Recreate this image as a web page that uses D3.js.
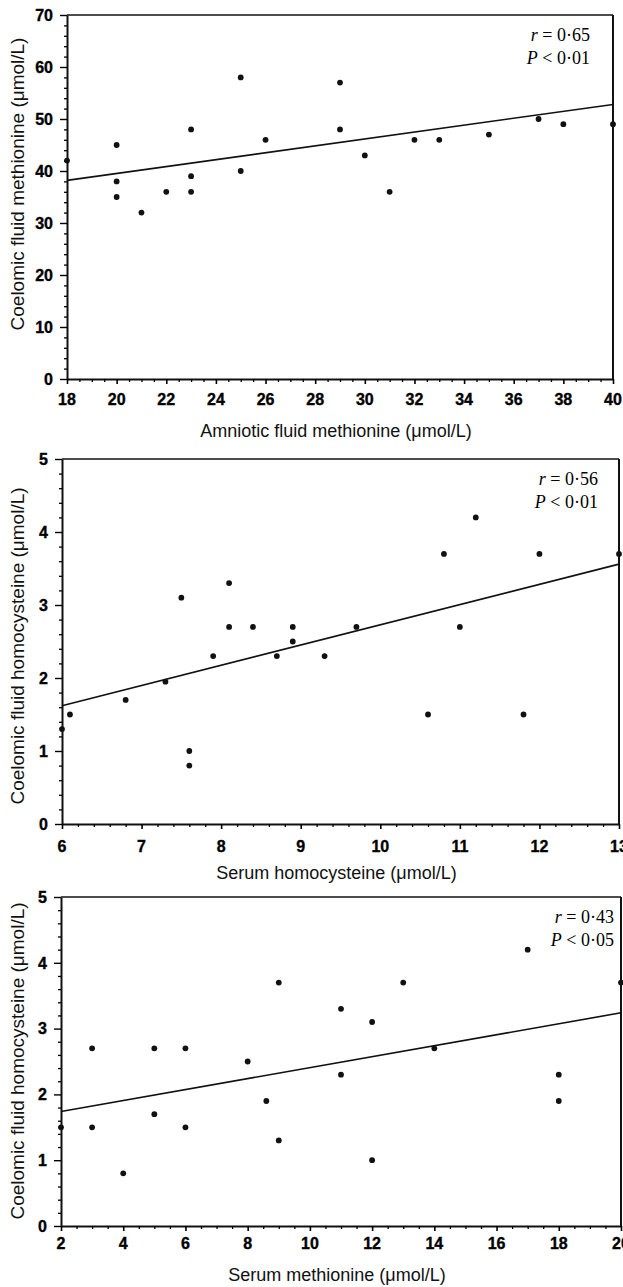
<!DOCTYPE html>
<html>
<head>
<meta charset="utf-8">
<script src="https://cdn.jsdelivr.net/npm/d3@7"></script>
<style>
  body { margin: 0; background: #fff; }
  svg { display: block; }
  .tick-label { font-family: "Liberation Sans", Arial, sans-serif; font-weight: bold; font-size: 16px; stroke: #000; stroke-width: 0.35px; }
  .axis-title { font-family: "Liberation Sans", Arial, sans-serif; fill: #111; }
  .stat { font-family: "Liberation Serif", "Times New Roman", serif; font-size: 18px; }
</style>
</head>
<body>
<div id="plot"></div>
<script>
// Figure size
const width = 623;
const height = 1287;

// Panel 1 data: amniotic vs coelomic methionine
const amnioticMet = [18, 20, 20, 20, 21, 22, 23, 23, 23, 25, 25, 26, 29, 29, 30, 31, 32, 33, 35, 37, 38, 40];
const coelomicMet = [42, 45, 38, 35, 32, 36, 48, 39, 36, 58, 40, 46, 57, 48, 43, 36, 46, 46, 47, 50, 49, 49];
const fitMet = [[18, 38.2], [40, 52.8]];
const ticksX1 = [18, 20, 22, 24, 26, 28, 30, 32, 34, 36, 38, 40];
const ticksY1 = [0, 10, 20, 30, 40, 50, 60, 70];

// Panel 2 data: serum vs coelomic homocysteine
const serumHcy = [6, 6.1, 6.8, 7.3, 7.5, 7.6, 7.6, 7.9, 8.1, 8.1, 8.4, 8.7, 8.9, 8.9, 9.3, 9.7, 10.6, 10.8, 11, 11.2, 11.8, 12, 13];
const coelomicHcy2 = [1.3, 1.5, 1.7, 1.95, 3.1, 1.0, 0.8, 2.3, 3.3, 2.7, 2.7, 2.3, 2.7, 2.5, 2.3, 2.7, 1.5, 3.7, 2.7, 4.2, 1.5, 3.7, 3.7];
const fitHcy = [[6, 1.62], [13, 3.56]];
const ticksX2 = [6, 7, 8, 9, 10, 11, 12, 13];
const ticksY2 = [0, 1, 2, 3, 4, 5];

// Panel 3 data: serum methionine vs coelomic homocysteine
const serumMet = [2, 3, 3, 4, 5, 5, 6, 6, 8, 8.6, 9, 9, 11, 11, 12, 12, 13, 14, 17, 18, 18, 20];
const coelomicHcy3 = [1.5, 2.7, 1.5, 0.8, 2.7, 1.7, 2.7, 1.5, 2.5, 1.9, 3.7, 1.3, 3.3, 2.3, 3.1, 1.0, 3.7, 2.7, 4.2, 2.3, 1.9, 3.7];
const fitMet3 = [[2, 1.74], [20, 3.24]];
const ticksX3 = [2, 4, 6, 8, 10, 12, 14, 16, 18, 20];
const ticksY3 = [0, 1, 2, 3, 4, 5];

const svg = d3.select("#plot")
  .append("svg")
  .attr("width", width)
  .attr("height", height);

const panels = [
  {
    box: { left: 67, right: 613, top: 15, bottom: 379 },
    xDomain: [18, 40], yDomain: [0, 70], xMinor: 0.5, yMinor: 2,
    xs: amnioticMet, ys: coelomicMet, fit: fitMet,
    xTicks: ticksX1, yTicks: ticksY1,
    xTitle: "Amniotic fluid methionine (μmol/L)",
    yTitle: "Coelomic fluid methionine (μmol/L)",
    r: "0·65", p: "< 0·01",
    statX: 590, statY: 41, xLabelDy: 26, xTitleDy: 58, yTitleY: 184
  },
  {
    box: { left: 62, right: 619, top: 459, bottom: 824 },
    xDomain: [6, 13], yDomain: [0, 5], xMinor: 0.2, yMinor: 0.2,
    xs: serumHcy, ys: coelomicHcy2, fit: fitHcy,
    xTicks: ticksX2, yTicks: ticksY2,
    xTitle: "Serum homocysteine (μmol/L)",
    yTitle: "Coelomic fluid homocysteine (μmol/L)",
    r: "0·56", p: "< 0·01",
    statX: 598, statY: 485, xLabelDy: 28, xTitleDy: 55, yTitleY: 646
  },
  {
    box: { left: 61, right: 621, top: 897, bottom: 1226 },
    xDomain: [2, 20], yDomain: [0, 5], xMinor: 0.5, yMinor: 0.2,
    xs: serumMet, ys: coelomicHcy3, fit: fitMet3,
    xTicks: ticksX3, yTicks: ticksY3,
    xTitle: "Serum methionine (μmol/L)",
    yTitle: "Coelomic fluid homocysteine (μmol/L)",
    r: "0·43", p: "< 0·05",
    statX: 614, statY: 923, xLabelDy: 23, xTitleDy: 55, yTitleY: 1061
  }
];

function range(a, b, step) {
  const out = [];
  const n = Math.round((b - a) / step);
  for (let i = 0; i <= n; i++) out.push(+(a + i * step).toFixed(4));
  return out;
}

panels.forEach(cfg => {
  const b = cfg.box;
  const x = d3.scaleLinear().domain(cfg.xDomain).range([b.left, b.right]);
  const y = d3.scaleLinear().domain(cfg.yDomain).range([b.bottom, b.top]);
  const g = svg.append("g");

  // frame: top and right spines
  g.append("line")
    .attr("x1", b.left).attr("x2", b.right).attr("y1", b.top).attr("y2", b.top)
    .attr("stroke", "#111").attr("stroke-width", 1.4);
  g.append("line")
    .attr("x1", b.right).attr("x2", b.right).attr("y1", b.top).attr("y2", b.bottom)
    .attr("stroke", "#111").attr("stroke-width", 2);

  // x axis
  const xAxis = d3.axisBottom(x)
    .tickValues(range(cfg.xDomain[0], cfg.xDomain[1], cfg.xMinor))
    .tickSizeInner(0).tickSizeOuter(0).tickFormat("");
  const gx = g.append("g").attr("transform", `translate(0,${b.bottom})`).call(xAxis);
  gx.selectAll(".tick line")
    .attr("y2", d => cfg.xTicks.includes(d) ? 5 : 3)
    .attr("stroke-width", d => cfg.xTicks.includes(d) ? 1.6 : 1.3);
  gx.select(".domain").attr("stroke", "#111").attr("stroke-width", 2);

  g.selectAll(".xlab")
    .data(cfg.xTicks)
    .join("text")
    .attr("class", "tick-label")
    .attr("x", d => x(d))
    .attr("y", b.bottom + cfg.xLabelDy)
    .attr("text-anchor", "middle")
    .text(d => d);

  // y axis
  const yAxis = d3.axisLeft(y)
    .tickValues(range(cfg.yDomain[0], cfg.yDomain[1], cfg.yMinor))
    .tickSizeInner(0).tickSizeOuter(0).tickFormat("");
  const gy = g.append("g").attr("transform", `translate(${b.left},0)`).call(yAxis);
  gy.selectAll(".tick line")
    .attr("x2", d => cfg.yTicks.includes(d) ? -7 : -3)
    .attr("stroke-width", d => cfg.yTicks.includes(d) ? 1.4 : 1.3);
  gy.select(".domain").attr("stroke", "#111").attr("stroke-width", 2);

  g.selectAll(".ylab")
    .data(cfg.yTicks)
    .join("text")
    .attr("class", "tick-label")
    .attr("x", b.left - 14)
    .attr("y", d => y(d))
    .attr("dy", "0.36em")
    .attr("text-anchor", "end")
    .text(d => d);

  // axis titles
  g.append("text")
    .attr("class", "axis-title")
    .attr("x", (b.left + b.right) / 2 - 4)
    .attr("y", b.bottom + cfg.xTitleDy)
    .attr("text-anchor", "middle")
    .style("font-size", "18px")
    .text(cfg.xTitle);

  g.append("text")
    .attr("class", "axis-title")
    .attr("transform", `translate(24,${cfg.yTitleY}) rotate(-90)`)
    .attr("text-anchor", "middle")
    .style("font-size", "19px")
    .text(cfg.yTitle);

  // regression line
  g.append("line")
    .attr("x1", x(cfg.fit[0][0])).attr("y1", y(cfg.fit[0][1]))
    .attr("x2", x(cfg.fit[1][0])).attr("y2", y(cfg.fit[1][1]))
    .attr("stroke", "#111").attr("stroke-width", 1.6);

  // points
  g.selectAll("circle")
    .data(cfg.xs.map((d, i) => [d, cfg.ys[i]]))
    .join("circle")
    .attr("cx", d => x(d[0]))
    .attr("cy", d => y(d[1]))
    .attr("r", 2.9)
    .attr("fill", "#111");

  // statistics
  const t1 = g.append("text").attr("class", "stat")
    .attr("x", cfg.statX).attr("y", cfg.statY).attr("text-anchor", "end");
  t1.append("tspan").style("font-style", "italic").text("r");
  t1.append("tspan").text(" = " + cfg.r);
  const t2 = g.append("text").attr("class", "stat")
    .attr("x", cfg.statX).attr("y", cfg.statY + 23).attr("text-anchor", "end");
  t2.append("tspan").style("font-style", "italic").text("P");
  t2.append("tspan").text(" " + cfg.p);
});
</script>
</body>
</html>
